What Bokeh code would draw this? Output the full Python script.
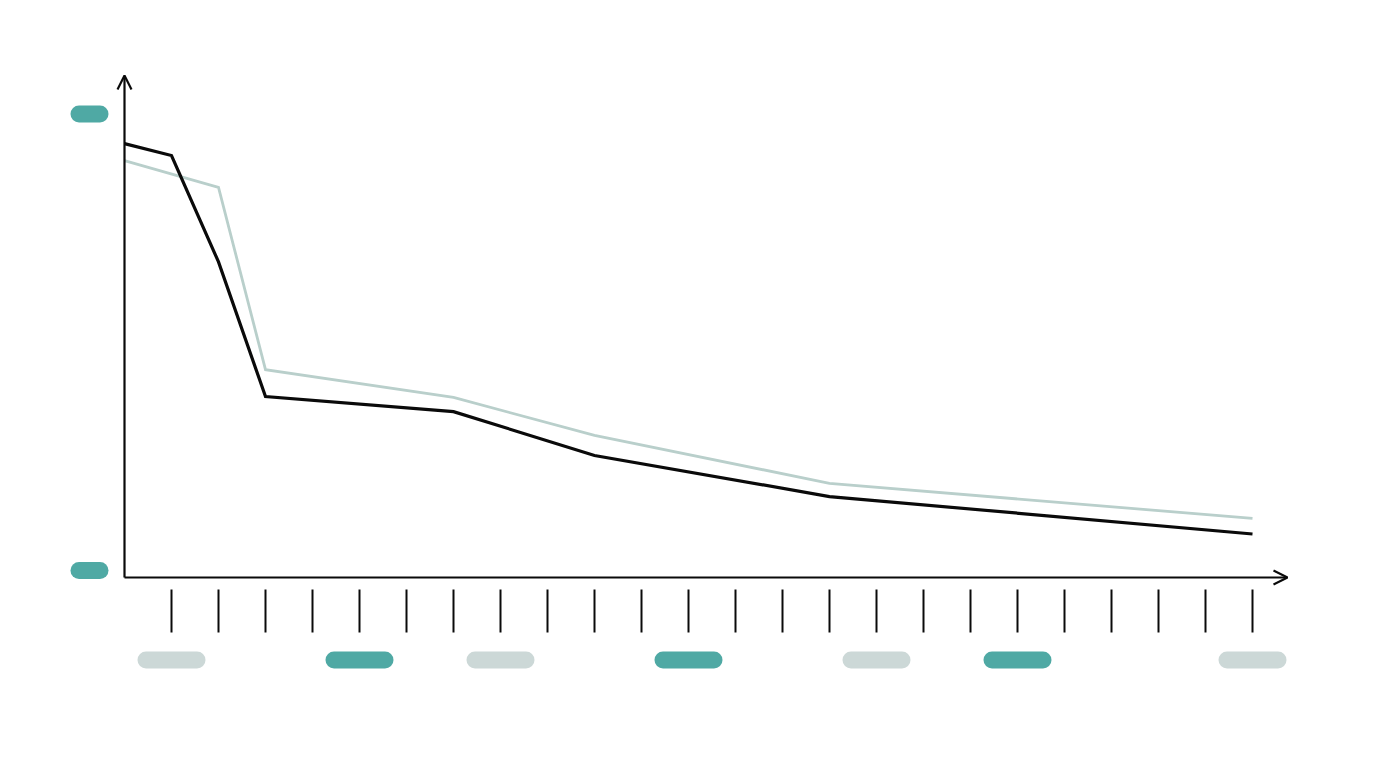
from bokeh.plotting import figure
from bokeh.models import Range1d, Arrow, OpenHead
from bokeh.embed import file_html
from bokeh.resources import INLINE

# ---- data ----
black_x = [0, 1, 2, 3, 7, 10, 15, 24]
black_y = [93.5, 90.9, 67.6, 38.1, 34.8, 25.2, 16.2, 8.0]
gray_x = [0, 2, 3, 7, 10, 15, 24]
gray_y = [89.8, 83.9, 44.0, 37.9, 29.6, 19.1, 11.4]
tick_x = list(range(1, 25))
xlabel_x = [1, 5, 8, 12, 16, 19, 24]
xlabel_kind = ["gray", "teal", "gray", "teal", "gray", "teal", "gray"]
ylabel_y = [100, 0]

# ---- style / layout ----
TEAL = "#4fa9a4"
PILL_GRAY = "#ccd8d7"
LINE_GRAY = "#b9cfcb"
INK = "#0a0a0a"
W, H = 1360, 752
OX, OY = 124, 570          # canvas px of x=0, y=0
SX, SY = 47.0, 4.565       # px per data unit

def dx(px):
    return px / SX

def dy(px):
    return px / SY

x0 = (0 - OX) / SX
x1 = (W - OX) / SX
y1 = (OY - 0) / SY
y0 = (OY - H) / SY

p = figure(width=W, height=H, output_backend="svg", toolbar_location=None,
           x_range=Range1d(x0, x1), y_range=Range1d(y0, y1), min_border=0)
p.xaxis.visible = False
p.yaxis.visible = False
p.grid.visible = False
p.outline_line_color = None
p.background_fill_color = "white"
p.border_fill_color = "white"

axis_v = -dy(7)
pill_h = 17
for x, k in zip(xlabel_x, xlabel_kind):
    half = dx((68 - pill_h) / 2)
    p.segment(x0=[x - half], y0=[-dy(89.5)], x1=[x + half], y1=[-dy(89.5)],
              line_width=pill_h, line_cap="round",
              line_color=TEAL if k == "teal" else PILL_GRAY)
ycx = -dx(35)
for v in ylabel_y:
    half = dx((38 - pill_h) / 2)
    p.segment(x0=[ycx - half], y0=[v], x1=[ycx + half], y1=[v],
              line_width=pill_h, line_cap="round", line_color=TEAL)

p.segment(x0=tick_x, y0=[-dy(19)] * len(tick_x), x1=tick_x, y1=[-dy(62)] * len(tick_x),
          line_width=2, line_color=INK)

p.add_layout(Arrow(end=OpenHead(size=14, line_width=2.2, line_color=INK),
                   x_start=0, y_start=axis_v, x_end=dx(1287 - OX), y_end=axis_v,
                   line_width=2.2, line_color=INK))
p.add_layout(Arrow(end=OpenHead(size=14, line_width=2.2, line_color=INK),
                   x_start=0, y_start=axis_v, x_end=0, y_end=dy(OY - 75),
                   line_width=2.2, line_color=INK))

p.line(gray_x, gray_y, line_width=2.8, line_color=LINE_GRAY, line_join="miter")
p.line(black_x, black_y, line_width=3.2, line_color=INK, line_join="miter")

open("out.html", "w").write(file_html(p, INLINE))
